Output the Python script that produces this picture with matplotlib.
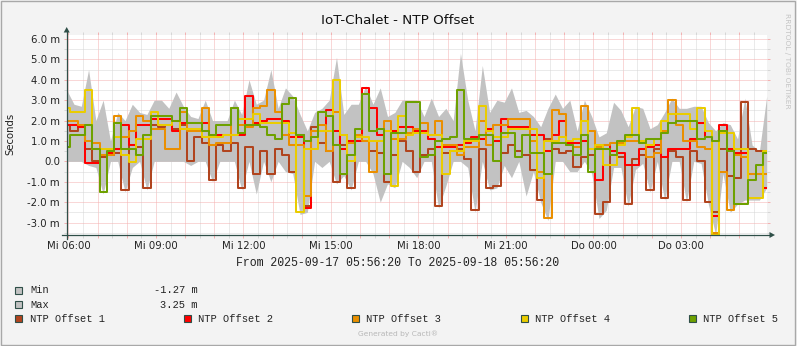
"""IoT-Chalet NTP offset graph (rrdtool / cacti look)."""

import numpy as np
import pandas as pd
import matplotlib
matplotlib.use("Agg")
import matplotlib.pyplot as plt
from matplotlib.patches import Rectangle, Polygon

W, H = 797, 346

# 15 minute samples from 2025-09-17 05:56:20 to 2025-09-18 05:56:20
times = pd.date_range("2025-09-17 05:56:20", periods=97, freq="15min")

offset_1 = [1.8, 1.5, 1.7, 0.6, 0.0, 0.2, 0.3, 0.4, -1.4, 0.8, 0.7, -1.3, 1.8, 1.7, 1.8, 1.6,
            1.8, 0.0, 1.2, 0.9, -0.9, 0.8, 0.5, 0.9, -1.3, 0.7, -0.6, 0.5, -0.6, 0.6, 0.3, -0.5,
            1.3, -2.2, 1.7, 0.9, 0.5, -1.0, 0.8, -1.3, 1.2, 1.0, 0.5, 0.4, -1.0, 0.3, 1.0, 0.5,
            -0.5, 0.3, 0.6, -2.2, 0.4, 0.5, 0.6, 0.1, -2.4, 0.6, -1.3, -1.2, 0.4, 0.8, 0.5, 0.3,
            -0.4, -1.9, 1.1, 0.6, 0.4, 0.5, -0.3, 0.2, 0.3, -2.6, -2.0, 0.5, 0.2, -2.1, 0.1, 0.3,
            -1.4, 0.6, -1.8, 0.5, 0.2, -1.9, 0.5, 0.0, -2.0, -2.5, 0.6, -0.7, -0.8, 2.9, 0.6, 0.5,
            0.4]
offset_2 = [1.8, 1.8, 1.7, -0.1, -0.1, 0.3, 0.4, 0.6, 1.8, 0.8, 1.8, 1.8, 2.1, 2.1, 2.1, 1.5,
            1.9, 1.9, 1.9, 1.9, 1.3, 1.3, 1.3, 1.3, 1.3, 3.2, 1.9, 2.0, 2.1, 2.1, 2.0, 1.2,
            1.2, -2.3, 1.5, 1.5, 2.5, 1.5, 0.6, 1.0, 1.0, 3.6, 2.6, 1.3, 1.5, 1.5, 1.7, 1.7,
            1.5, 1.5, 1.1, 0.7, 0.7, 0.7, 0.8, 0.9, 1.2, 1.1, 1.6, 1.0, 2.1, 1.7, 1.7, 1.7,
            1.3, 1.3, 0.5, 1.3, 2.0, 0.9, 0.9, 1.0, 0.6, -0.9, 0.8, 0.5, 0.4, -0.2, -0.2, 0.6,
            0.7, 0.8, 0.2, 0.6, 0.6, 0.6, 1.1, 1.9, 1.2, -2.7, 1.8, 0.6, 0.4, 0.4, -0.6, -0.6,
            -1.3]
offset_3 = [2.0, 2.0, 1.8, 1.0, 0.9, 0.3, 0.3, 2.2, 1.2, 1.5, 2.2, 2.0, 1.6, 1.6, 0.6, 0.6,
            2.4, 1.5, 1.5, 2.6, 0.8, 0.9, 0.9, 2.6, 1.8, 1.7, 2.6, 2.7, 3.5, 2.4, 1.3, 0.8,
            0.8, -1.7, 1.5, 1.8, 0.5, 2.4, 1.3, 0.9, 1.3, 1.0, -0.5, 1.0, 2.0, 1.1, 1.1, 1.4,
            1.6, 1.9, 1.3, 2.0, 0.8, 0.8, 0.3, 0.7, 0.7, 2.0, 0.8, 1.8, 1.8, 2.1, 2.1, 2.1,
            1.0, -0.5, -2.8, 2.5, 2.3, 0.8, 0.7, 2.7, 1.5, 0.7, 0.8, 0.9, 0.9, 1.0, 1.0, 1.0,
            0.2, 0.4, 1.5, 3.0, 1.8, 1.0, 1.0, 0.7, 0.6, -3.5, -0.5, -2.4, 0.3, 0.2, -0.6, -0.6,
            -0.6]
offset_4 = [2.6, 2.4, 2.4, 3.5, 0.6, 0.6, 0.6, 1.2, 0.3, -0.05, 1.1, 1.1, 2.4, 1.8, 1.8, 2.0,
            1.6, 1.6, 1.6, 1.2, 1.2, 1.2, 1.3, 1.3, 2.1, 2.1, 2.3, 1.9, 1.9, 1.9, 1.9, 1.4,
            -2.5, 0.6, 0.6, 1.5, 1.5, 4.0, 1.3, 0.0, 1.2, 1.2, 1.0, 1.0, 1.5, -1.2, 2.2, 1.3,
            1.4, 1.4, 1.3, 1.3, -0.6, 0.5, 0.5, 1.0, 1.0, 2.7, 1.5, 1.2, 1.2, 1.6, 1.6, 1.6,
            1.6, -0.8, 1.0, 1.0, 1.2, 1.0, 1.1, 2.0, 0.6, 0.8, -0.2, -0.2, 0.8, 1.2, 2.6, 1.0,
            0.8, 1.1, 2.0, 2.3, 2.3, 2.3, 1.6, 2.6, 1.5, -3.6, 1.4, 1.4, 0.6, 0.6, -1.8, -1.8,
            0.5]
offset_5 = [0.7, 1.3, 1.3, 1.8, 0.6, -1.5, 0.5, 1.9, 0.6, 0.6, 0.3, 1.3, 2.2, 2.2, 2.2, 2.0,
            2.6, 1.9, 1.9, 1.5, 1.3, 1.8, 1.8, 2.6, 1.4, 1.8, 1.8, 1.7, 1.3, 1.1, 2.8, 3.1,
            1.3, 1.0, 1.2, 2.4, 2.2, 0.8, -0.6, 0.3, 1.6, 3.3, 1.5, 1.6, -0.6, 1.4, 1.4, 2.9,
            2.9, 0.2, 0.3, 1.0, 1.1, 1.2, 3.5, 1.1, 1.1, 1.3, 1.3, 0.0, 1.4, 1.4, 0.2, 1.3,
            0.4, 0.4, -0.6, 0.9, 0.9, 0.8, 0.3, 1.3, -0.5, 0.6, 0.6, 0.3, 1.0, 1.3, 1.3, 0.9,
            1.1, 1.1, 1.4, 1.9, 2.0, 2.0, 2.0, 1.1, 1.2, 1.0, 1.5, 0.5, -2.1, -2.1, -0.9, -0.2,
            0.4]
gray_max = [3.5, 2.8, 2.7, 4.5, 2.0, 3.0, 1.0, 2.4, 2.0, 2.8, 2.4, 2.3, 3.0, 3.0, 2.6, 3.4,
            2.7, 2.2, 2.1, 3.0, 2.0, 2.0, 2.0, 3.0, 2.3, 4.0, 2.8, 3.0, 4.5, 2.6, 3.6, 3.2,
            2.3, 1.5, 2.4, 2.6, 3.0, 5.1, 2.3, 2.8, 2.8, 3.7, 2.8, 3.6, 2.2, 2.4, 3.0, 3.0,
            3.0, 2.2, 3.1, 2.2, 2.6, 2.0, 5.3, 3.0, 1.5, 4.7, 2.4, 3.0, 2.9, 3.6, 2.4, 2.5,
            2.2, 1.7, 2.6, 3.3, 2.6, 3.0, 1.5, 3.0, 2.2, 1.2, 1.4, 2.9, 2.5, 1.7, 2.7, 2.6,
            1.6, 1.8, 2.4, 3.1, 2.6, 2.6, 2.7, 2.7, 1.9, 1.5, 1.9, 1.8, 1.1, 3.1, 0.8, 0.5,
            3.2]
gray_min = [0.5, 1.0, 1.0, -0.2, -0.3, -1.6, 0.0, 0.2, -1.5, -0.3, 0.2, -1.4, 1.0, 1.2, 0.5, 0.4,
            1.2, -0.2, 0.8, 0.6, -1.0, 0.5, 0.3, 0.6, -1.4, 0.3, -1.6, 0.2, -1.0, 0.3, -0.5, -0.6,
            -2.6, -2.5, 0.4, -0.3, 0.2, -1.1, -0.7, -1.4, 0.5, 0.4, -0.6, -2.0, -1.1, -1.3, 0.6, -0.3,
            -0.8, 0.1, 0.2, -2.3, -1.2, 0.2, 0.2, -0.3, -2.5, 0.2, -1.4, -1.3, -0.2, -0.8, 0.1, -1.7,
            -0.5, -2.0, -2.9, 0.2, 0.2, -0.5, -0.5, 0.0, -0.6, -2.8, -2.4, -0.3, -0.3, -2.2, -0.4, -0.1,
            -1.5, 0.1, -1.9, 0.2, 0.1, -2.0, 0.2, -0.1, -2.1, -3.6, -0.6, -2.5, -2.1, -1.9, -1.9, -1.9,
            -1.3]

series = [offset_1, offset_2, offset_3, offset_4, offset_5]
series_names = ["NTP Offset 1", "NTP Offset 2", "NTP Offset 3", "NTP Offset 4", "NTP Offset 5"]
series_colors = ["#B1441E", "#FF0000", "#EA8F00", "#EACC00", "#6EA100"]
min_value_label = "-1.27 m"
max_value_label = "3.25 m"
day_names = {2: "Mi", 3: "Do"}
y_ticks = [-3, -2, -1, 0, 1, 2, 3, 4, 5, 6]

GRAY = "#c2c2c2"
AXIS = "#2f4f48"
BG = "#f3f3f3"
MGRID = "#f4b0b0"
GRID = "#d6d6d6"

# plot area in pixels
PX0, PX1 = 66.7, 766.7
PY0, PY1 = 35.3, 235.0

fig = plt.figure(figsize=(W / 100, H / 100), dpi=100, facecolor=BG)
ax = fig.add_axes([PX0 / W, 1 - PY1 / H, (PX1 - PX0) / W, (PY1 - PY0) / H])
ax.set_facecolor("white")

lo = np.minimum(np.array(gray_min), 0)
hi = np.maximum(np.array(gray_max), 0)
ax.fill_between(times, lo, hi, color=GRAY, lw=0, zorder=2)
for vals, col in zip(series, series_colors):
    ax.plot(times, vals, color=col, lw=1.45, drawstyle="steps-mid", zorder=3)

ax.set_xlim(times[0], times[-1])
ax.set_ylim(-3.61, 6.18)

# grid: hourly red, half-hourly gray
hours = pd.date_range("2025-09-17 06:00", "2025-09-18 05:00", freq="1h")
halves = pd.date_range("2025-09-17 06:30", "2025-09-18 05:30", freq="1h")
xlabels = [f"{day_names[h.weekday()]} {h:%H:%M}" if h.hour % 3 == 0 else "" for h in hours]
ax.set_xticks(hours)
ax.set_xticklabels(xlabels)
ax.set_xticks(halves, minor=True)

ax.set_yticks(y_ticks)
ax.set_yticklabels(["0.0" if v == 0 else f"{v:.1f} m" for v in y_ticks])
ax.set_yticks(np.arange(-3.5, 6.01, 1.0), minor=True)

dots = (0, (1, 1))
ax.grid(which="major", color=MGRID, lw=0.72, linestyle=dots)
ax.grid(which="minor", color=GRID, lw=0.72, linestyle=dots)
ax.set_axisbelow(True)

ax.tick_params(which="major", length=2, width=0.7, color=MGRID, labelsize=7.3,
               labelcolor="#222222", top=True, right=True)
ax.tick_params(which="minor", length=2, width=0.7, color=GRID, top=True, right=True)
ax.tick_params(axis="y", pad=2.8)
ax.tick_params(axis="x", pad=2.0)
for s in ax.spines.values():
    s.set_visible(False)

# overlay in pixel coords for axes arrows, legend and captions
ov = fig.add_axes([0, 0, 1, 1], zorder=5)
ov.set_xlim(0, W)
ov.set_ylim(H, 0)
ov.axis("off")
ov.patch.set_alpha(0)

ov.plot([62.5, 770], [PY1, PY1], color=AXIS, lw=0.9)
ov.plot([PX0, PX0], [238.5, 32], color=AXIS, lw=0.9)
ov.add_patch(Polygon([(PX0 - 3, 32.5), (PX0 + 3, 32.5), (PX0, 27)], color=AXIS, lw=0))
ov.add_patch(Polygon([(769.5, PY1 - 3), (769.5, PY1 + 3), (775, PY1)], color=AXIS, lw=0))

ov.add_patch(Rectangle((0.5, 0.5), W - 2, H - 2, fill=False, edgecolor="#a8a8a8", lw=1))

ov.text(398, 21, "IoT-Chalet - NTP Offset", ha="center", va="center", fontsize=9.7,
        color="#111111")
ov.text(10, 134, "Seconds", rotation=90, ha="center", va="center", fontsize=7.3,
        color="#222222")
ov.text(787, 61, "RRDTOOL / TOBI OETIKER", rotation=270, ha="center", va="center",
        fontsize=5.4, color="#c4c4c4")
ov.text(398, 263, "From 2025-09-17 05:56:20 To 2025-09-18 05:56:20", ha="center",
        va="center", fontsize=8.3, family="Liberation Mono", color="#222222")


def swatch(x, y, color):
    ov.add_patch(Rectangle((x, y - 3.5), 7, 7, facecolor=color, edgecolor=AXIS, lw=0.8))


mono = dict(va="center", fontsize=7.5, family="Liberation Mono", color="#222222")
swatch(15.5, 290, GRAY)
ov.text(30, 290, "Min", **mono)
ov.text(198, 290, min_value_label, ha="right", **mono)
swatch(15.5, 304.5, GRAY)
ov.text(30, 304.5, "Max", **mono)
ov.text(198, 304.5, max_value_label, ha="right", **mono)

leg_x = [15.5, 184, 352, 521, 689]
for lx, name, col in zip(leg_x, series_names, series_colors):
    swatch(lx, 318.5, col)
    ov.text(lx + 14.5, 318.5, name, **mono)

ov.text(398, 334, "Generated by Cacti®", ha="center", va="center", fontsize=5.4,
        color="#b8b8b8")

fig.savefig("out.png", dpi=100, facecolor=BG)
plt.close(fig)
